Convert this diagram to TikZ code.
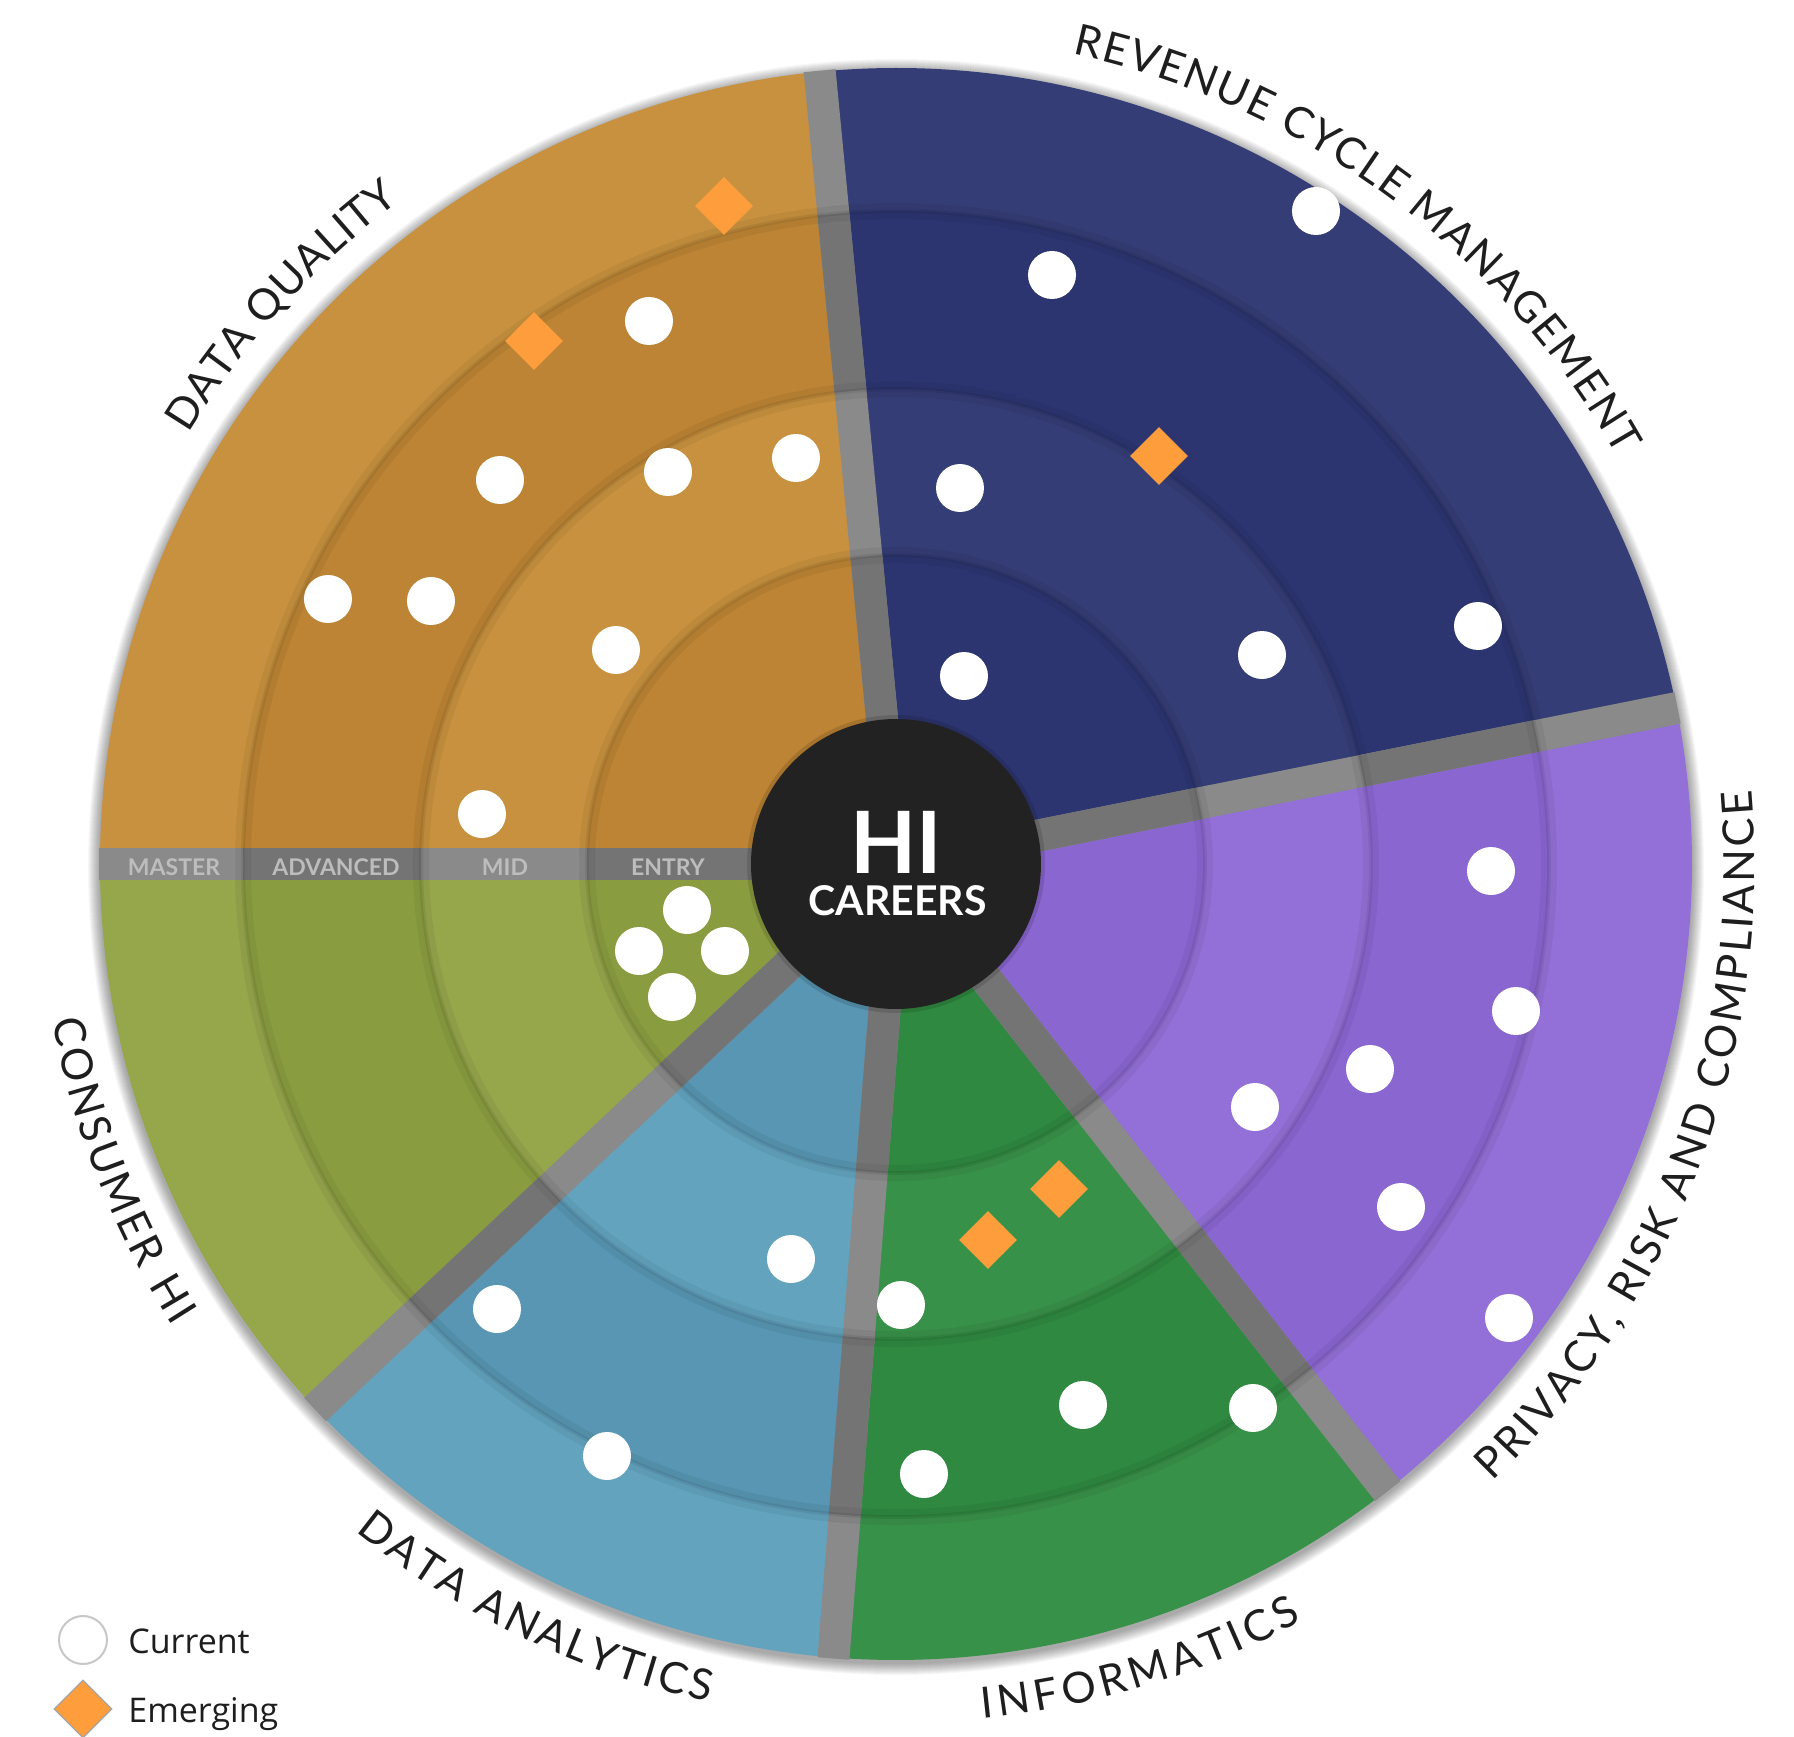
\documentclass[tikz,border=0pt]{standalone}
\usepackage{fontspec}
\setmainfont{Lato}
\newfontfamily\legfont{Open Sans}
\usetikzlibrary{decorations.text,shapes.geometric}
\definecolor{orL}{HTML}{C8913F}\definecolor{orD}{HTML}{BC8434}
\definecolor{nvL}{HTML}{343D75}\definecolor{nvD}{HTML}{2C3570}
\definecolor{puL}{HTML}{9370D8}\definecolor{puD}{HTML}{8A66D0}
\definecolor{grL}{HTML}{389148}\definecolor{grD}{HTML}{2F8940}
\definecolor{blL}{HTML}{63A3BE}\definecolor{blD}{HTML}{5896B3}
\definecolor{olL}{HTML}{96A64B}\definecolor{olD}{HTML}{8A9C40}
\definecolor{gapL}{HTML}{8A8A8A}\definecolor{gapD}{HTML}{747474}
\definecolor{hub}{HTML}{222222}
\definecolor{emc}{HTML}{FD9D3C}
\definecolor{lbl}{HTML}{1E1E1E}
\definecolor{ringlbl}{HTML}{BDBDBD}
\newcommand\hiwedge[4]{\fill[#4] (0,0) -- (#1:#3) arc[start angle=#1,end angle=#2,radius=#3] -- cycle;}
\newcommand\hisector[4]{\hiwedge{#1}{#2}{796}{#3}\hiwedge{#1}{#2}{653}{#4}\hiwedge{#1}{#2}{475}{#3}\hiwedge{#1}{#2}{309}{#4}}
\newcommand\higap[1]{\draw[gapL,line width=16] (#1:140) -- (#1:797);
  \draw[gapD,line width=16] (#1:475) -- (#1:653);
  \draw[gapD,line width=16] (#1:140) -- (#1:309);}
\tikzset{
  dot/.style={circle,fill=white,minimum size=24pt,inner sep=0pt},
  emerg/.style={diamond,fill=emc,minimum size=29pt,inner sep=0pt},
  outlbl/.style={decorate,decoration={text along path,text align={fit to path=true},
     text={|\fontsize{21.5pt}{24pt}\selectfont\color{lbl}|#1}}},
  ringtxt/.style={text=ringlbl,font=\fontsize{11.5pt}{12pt}\selectfont\bfseries,inner sep=0pt},
  legtxt/.style={anchor=base west,inner sep=0pt,text=lbl,font=\legfont\fontsize{17pt}{19pt}\selectfont}
}
\begin{document}
\begin{tikzpicture}[x=0.5pt,y=0.5pt]
\useasboundingbox (-896,-872) rectangle (898,864);
\fill[white] (-896,-872) rectangle (898,864);
% outer soft shadow
\foreach \i in {0,...,11} {\fill[black,opacity=0.03] (0,-3) circle (797+\i);}
% sectors
\hisector{95.5}{180}{orL}{orD}
\hisector{180}{223.2}{olL}{olD}
\hisector{223.2}{265.5}{blL}{blD}
\hisector{265.5}{308.1}{grL}{grD}
\hisector{308.1}{371.3}{puL}{puD}
\hisector{11.3}{95.5}{nvL}{nvD}
% gaps
\higap{95.5}\higap{180}\higap{223.2}\higap{265.5}\higap{308.1}\higap{11.3}
% ring edge shadows
\foreach \r in {309,475,653} {
  \draw[black,opacity=0.05,line width=8] (0,0) circle (\r);
  \draw[black,opacity=0.07,line width=2] (0,0) circle (\r);}
% ring labels
\node[ringtxt] (master) at (-722,-3) {MASTER};
\node[ringtxt] (advanced) at (-560,-3) {ADVANCED};
\node[ringtxt] (mid) at (-391,-3) {MID};
\node[ringtxt] (entry) at (-228,-3) {ENTRY};
% hub
\fill[black,opacity=0.12] (0,0) circle (149);
\node[circle,fill=hub,minimum size=145pt,inner sep=0pt] (hubc) at (0,0) {};
\node[text=white,font=\fontsize{43pt}{45pt}\selectfont\bfseries,inner sep=0pt] (hi) at (0.5,21.5) {HI};
\node[text=white,font=\fontsize{20.5pt}{22pt}\selectfont\bfseries,inner sep=0pt] (careers) at (1.5,-37) {CAREERS};
% Data quality
\node[emerg] (dq1) at (-172,658) {};
\node[emerg] (dq2) at (-362,523) {};
\node[dot] (dq3) at (-247,543) {};
\node[dot] (dq4) at (-396,384) {};
\node[dot] (dq5) at (-228,392) {};
\node[dot] (dq6) at (-100,406) {};
\node[dot] (dq7) at (-568,265) {};
\node[dot] (dq8) at (-465,263) {};
\node[dot] (dq9) at (-280,214) {};
\node[dot] (dq10) at (-414,50) {};
% Revenue cycle
\node[dot] (rc1) at (420,653) {};
\node[dot] (rc2) at (156,589) {};
\node[emerg] (rc3) at (263,408) {};
\node[dot] (rc4) at (64,376) {};
\node[dot] (rc5) at (366,209) {};
\node[dot] (rc6) at (582,238) {};
\node[dot] (rc7) at (68,188) {};
% Privacy
\node[dot] (pr1) at (595,-7) {};
\node[dot] (pr2) at (620,-147) {};
\node[dot] (pr3) at (474,-205) {};
\node[dot] (pr4) at (359,-243) {};
\node[dot] (pr5) at (505,-343) {};
\node[dot] (pr6) at (613,-454) {};
% Informatics
\node[emerg] (in1) at (163,-325) {};
\node[emerg] (in2) at (92,-376) {};
\node[dot] (in3) at (5,-441) {};
\node[dot] (in4) at (187,-541) {};
\node[dot] (in5) at (357,-544) {};
\node[dot] (in6) at (28,-610) {};
% Data analytics
\node[dot] (da1) at (-105,-395) {};
\node[dot] (da2) at (-399,-445) {};
\node[dot] (da3) at (-289,-592) {};
% Consumer HI
\node[dot] (ch1) at (-209,-46) {};
\node[dot] (ch2) at (-257,-87) {};
\node[dot] (ch3) at (-171,-87) {};
\node[dot] (ch4) at (-224,-133) {};
% curved labels
\path[outlbl={DATA QUALITY}] (148.7:828) arc[start angle=148.7,end angle=126.8,radius=828];
\path[outlbl={REVENUE CYCLE MANAGEMENT}] (77.7:829) arc[start angle=77.7,end angle=29.5,radius=829];
\path[outlbl={PRIVACY, RISK AND COMPLIANCE}] (-46:859) arc[start angle=-46,end angle=4.9,radius=859];
\path[outlbl={INFORMATICS}] (-84.2:859) arc[start angle=-84.2,end angle=-61.8,radius=859];
\path[outlbl={DATA ANALYTICS}] (231:859) arc[start angle=231,end angle=257.4,radius=859];
\path[outlbl={CONSUMER HI}] (190.5:858) arc[start angle=190.5,end angle=212.6,radius=858];
% legend
\node[dot,draw=black!22,line width=1pt] (legc) at (-813,-776) {};
\node[emerg,draw=black!35,line width=0.6pt] (legd) at (-813,-845) {};
\node[legtxt] (legct) at (-768,-789) {Current};
\node[legtxt] (legdt) at (-768,-858) {Emerging};
\end{tikzpicture}
\end{document}
